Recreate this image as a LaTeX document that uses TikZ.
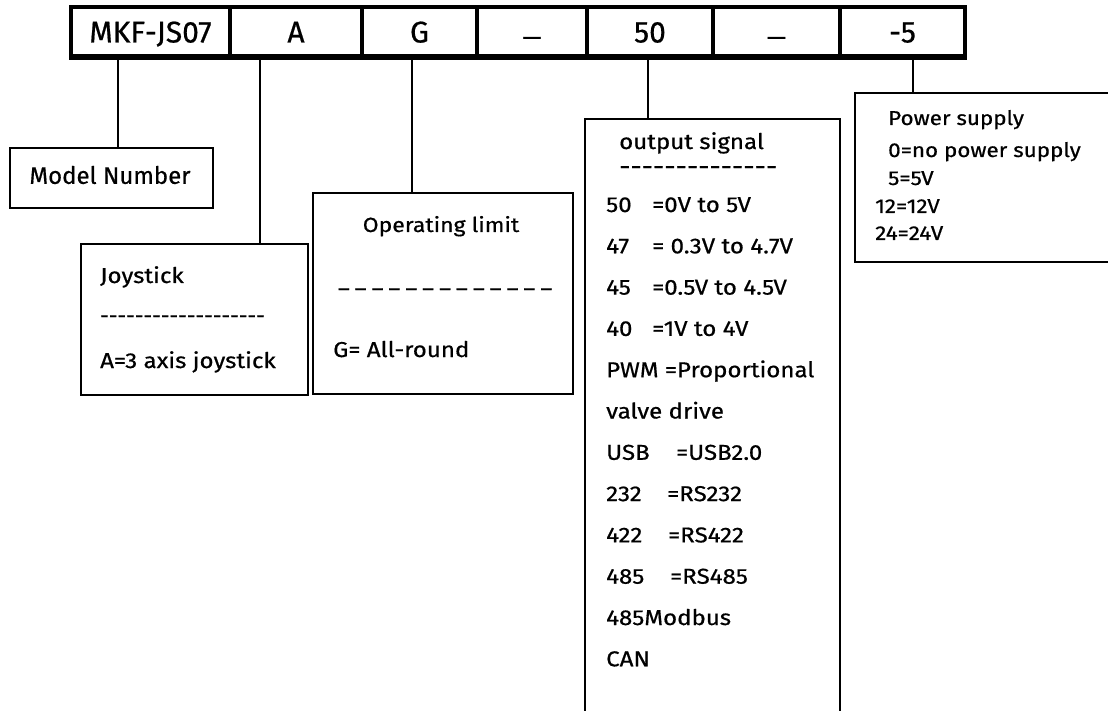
\documentclass[tikz,border=0pt]{standalone}
\usepackage{fontspec}
\setmainfont{Fira Sans}[Ligatures=TeXOff,FakeBold=0.6]
\newfontfamily\wfont{Fira Sans}[Ligatures=TeXOff,FakeBold=0.6,FakeStretch=1.12]
\begin{document}
\begin{tikzpicture}[x=1pt,y=-1pt,
  cell/.style={draw,line width=4pt,minimum height=49pt,inner sep=0pt,text height=22pt,text depth=0pt,font=\fontsize{30}{36}\selectfont},
  box/.style={draw,line width=1.6pt,inner sep=0pt,anchor=north west},
  link/.style={line width=1.6pt},
  txt/.style={anchor=base west,inner sep=0pt,font=\wfont\fontsize{21.5}{26}\selectfont},
  ctxt/.style={anchor=base,inner sep=0pt,font=\wfont\fontsize{20.5}{26}\selectfont},
  ptxt/.style={anchor=base west,inner sep=0pt,font=\wfont\fontsize{20}{24}\selectfont}]
\clip (0,0) rectangle (1108,711);
\fill[white] (0,0) rectangle (1108,711);
% top code bar
\node[cell,minimum width=159pt] (c1) at (150.5,31.5) {MKF-JS07};
\node[cell,minimum width=132pt] (c2) at (296,31.5) {A};
\node[cell,minimum width=115pt] (c3) at (419.5,31.5) {G};
\node[cell,minimum width=110pt] (c4) at (532,31.5) {\fontsize{24}{28}\selectfont\raisebox{-3pt}{—}};
\node[cell,minimum width=126pt] (c5) at (650,31.5) {50};
\node[cell,minimum width=127pt] (c6) at (776.5,31.5) {\fontsize{24}{28}\selectfont\raisebox{-3pt}{—}};
\node[cell,minimum width=125pt] (c7) at (902.5,31.5) {-5};
\draw[line width=5pt] (c1.south west) -- (c7.south east);
% boxes
\node[box,minimum width=203pt,minimum height=60pt] (mn) at (9,147) {};
\node[box,minimum width=227pt,minimum height=151pt] (jb) at (80,243) {};
\node[box,minimum width=260pt,minimum height=201pt] (ob) at (312,192) {};
\node[box,minimum width=255pt,minimum height=640pt] (os) at (584,118) {};
\node[box,minimum width=280pt,minimum height=169pt] (ps) at (854,92) {};
% connectors
\coordinate (k1) at (118,56);
\coordinate (k2) at (260,56);
\coordinate (k3) at (412,56);
\coordinate (k4) at (648,56);
\coordinate (k5) at (913,56);
\draw[link] (k1) -- (k1 |- mn.north);
\draw[link] (k2) -- (k2 |- jb.north);
\draw[link] (k3) -- (k3 |- ob.north);
\draw[link] (k4) -- (k4 |- os.north);
\draw[link] (k5) -- (k5 |- ps.north);
% texts
\node[inner sep=0pt,font=\fontsize{24}{28}\selectfont] (mnt) at (110,175) {Model Number};
\node[txt] (j1) at (100,283) {Joystick};
\node[anchor=base west,inner sep=0pt,font=\fontsize{21.5}{26}\selectfont] (j2) at (100,323) {-------------------};
\node[txt] (j3) at (100,368) {A=3 axis joystick};
\node[ctxt] (g1) at (441,232) {Operating limit};
\node[anchor=base west,inner sep=0pt,font=\fontsize{21.5}{26}\selectfont] (g2) at (338,287) {\_ \_ \_ \_ \_ \_ \_ \_ \_ \_ \_ \_ \_};
\node[txt] (g3) at (333,357) {G= All-round};
\node[txt] (o0) at (619,149) {output signal};
\node[anchor=base west,inner sep=0pt,font=\wfont\fontsize{25}{28}\selectfont] (oh) at (619,175) {--------------};
\node[txt] (o1) at (606,212) {\makebox[46pt][l]{50}=0V to 5V};
\node[txt] (o2) at (606,253.3) {\makebox[46pt][l]{47}= 0.3V to 4.7V};
\node[txt] (o3) at (606,294.6) {\makebox[46pt][l]{45}=0.5V to 4.5V};
\node[txt] (o4) at (606,335.9) {\makebox[46pt][l]{40}=1V to 4V};
\node[txt] (o5) at (606,377.2) {PWM =Proportional};
\node[txt] (o6) at (606,418.5) {valve drive};
\node[txt] (o7) at (606,459.8) {\makebox[70pt][l]{USB}=USB2.0};
\node[txt] (o8) at (606,501.1) {\makebox[61pt][l]{232}=RS232};
\node[txt] (o9) at (606,542.4) {\makebox[62pt][l]{422}=RS422};
\node[txt] (o10) at (606,583.7) {\makebox[64pt][l]{485}=RS485};
\node[txt] (o11) at (606,625) {485Modbus};
\node[txt] (o12) at (606,666.3) {CAN};
\node[ptxt] (p1) at (888,125) {Power supply};
\node[ptxt] (p2) at (888,157) {0=no power supply};
\node[ptxt] (p3) at (888,185) {5=5V};
\node[ptxt] (p4) at (875,213) {12=12V};
\node[ptxt] (p5) at (875,240) {24=24V};
\end{tikzpicture}
\end{document}
